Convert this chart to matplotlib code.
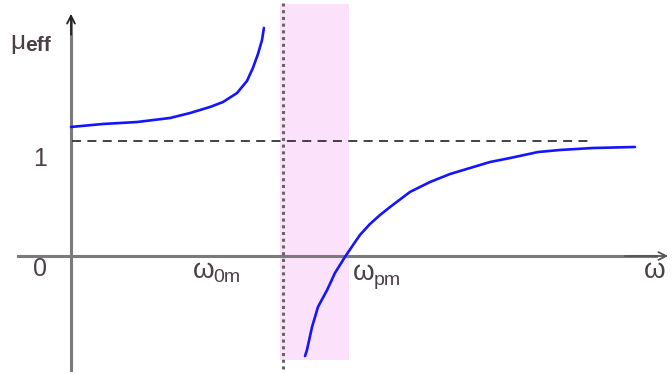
import matplotlib
matplotlib.use("Agg")
import matplotlib.pyplot as plt

plt.rcParams['mathtext.fontset'] = 'custom'
plt.rcParams['mathtext.rm'] = 'Liberation Sans'
plt.rcParams['mathtext.it'] = 'Liberation Sans'
plt.rcParams['font.family'] = ['Liberation Sans', 'DejaVu Sans']

# mu_eff below the magnetic resonance (w < w0m)
w_low = [0.0, 0.151, 0.311, 0.467, 0.561, 0.656, 0.717, 0.783, 0.830, 0.858,
         0.882, 0.901, 0.910]
mu_low = [1.122, 1.148, 1.165, 1.200, 1.243, 1.296, 1.339, 1.417, 1.522, 1.635,
          1.757, 1.878, 1.983]

# mu_eff above the resonance (w > w0m)
w_high = [1.104, 1.113, 1.137, 1.165, 1.208, 1.245, 1.292, 1.340, 1.363, 1.410,
          1.458, 1.505, 1.599, 1.693, 1.788, 1.882, 1.976, 2.071, 2.203, 2.307,
          2.462, 2.660]
mu_high = [-0.870, -0.817, -0.617, -0.443, -0.296, -0.148, -0.009, 0.122, 0.183, 0.278,
           0.357, 0.426, 0.557, 0.643, 0.713, 0.765, 0.817, 0.852, 0.904, 0.922,
           0.939, 0.948]

w0m = 1.0
wpm = 1.30
band = (0.986, 1.311)   # negative-mu band
mu_inf = 1.0

txt = '#4a4048'

fig = plt.figure(figsize=(6.72, 3.74), dpi=100)
ax = fig.add_axes([0, 0, 1, 1])
ax.set_xlim(-0.335, 2.835)
ax.set_ylim(-1.026, 2.226)
ax.axis('off')

ax.fill_between([band[0], band[1]], -0.904, 2.19, color='#fce1fb', lw=0, zorder=0)

# axes with arrow heads
ax.plot([0, 0], [-0.99, 2.05], color='#7a7a7a', lw=2.2, zorder=2)
ax.plot([-0.25, 2.76], [0, 0], color='#7a7a7a', lw=2.2, zorder=2)
ax.annotate('', xy=(0, 2.13), xytext=(0, 1.9),
            arrowprops=dict(arrowstyle='->', color='#222222', lw=1.3, mutation_scale=14))
ax.annotate('', xy=(2.83, 0), xytext=(2.6, 0),
            arrowprops=dict(arrowstyle='->', color='#555555', lw=1.3, mutation_scale=14))

ax.plot([0.005, 2.44], [mu_inf, mu_inf], color='#333333', lw=1.3,
        dashes=(5, 3.5), zorder=3)
ax.plot([w0m, w0m], [-0.98, 2.2], color='#666666', lw=2.2,
        dashes=(1, 1.2), zorder=3)

ax.plot(w_low, mu_low, color='#1414ff', lw=1.9, solid_capstyle='round',
        solid_joinstyle='round', zorder=4)
ax.plot(w_high, mu_high, color='#1414ff', lw=1.9, solid_capstyle='round',
        solid_joinstyle='round', zorder=4)

# labels: base symbol and subscript set separately
ax.text(-0.285, 1.86, '\u03bc', fontsize=19, color=txt, va='center', ha='left')
ax.text(-0.218, 1.83, 'eff', fontsize=15, color=txt, va='center', ha='left',
        fontweight='bold')
ax.text(-0.145, 0.84, '1', fontsize=18, color=txt, va='center', ha='center')
ax.text(-0.145, -0.11, '0', fontsize=18, color=txt, va='center', ha='center')

ax.text(0.575, -0.13, '\u03c9', fontsize=20, color=txt, va='center', ha='left')
ax.text(0.672, -0.19, '0m', fontsize=14, color=txt, va='center', ha='left')
ax.text(1.33, -0.15, '\u03c9', fontsize=20, color=txt, va='center', ha='left')
ax.text(1.428, -0.21, 'pm', fontsize=14, color=txt, va='center', ha='left')
ax.text(2.755, -0.13, '\u03c9', fontsize=20, color=txt, va='center', ha='center')

fig.savefig('out.png', dpi=100)
